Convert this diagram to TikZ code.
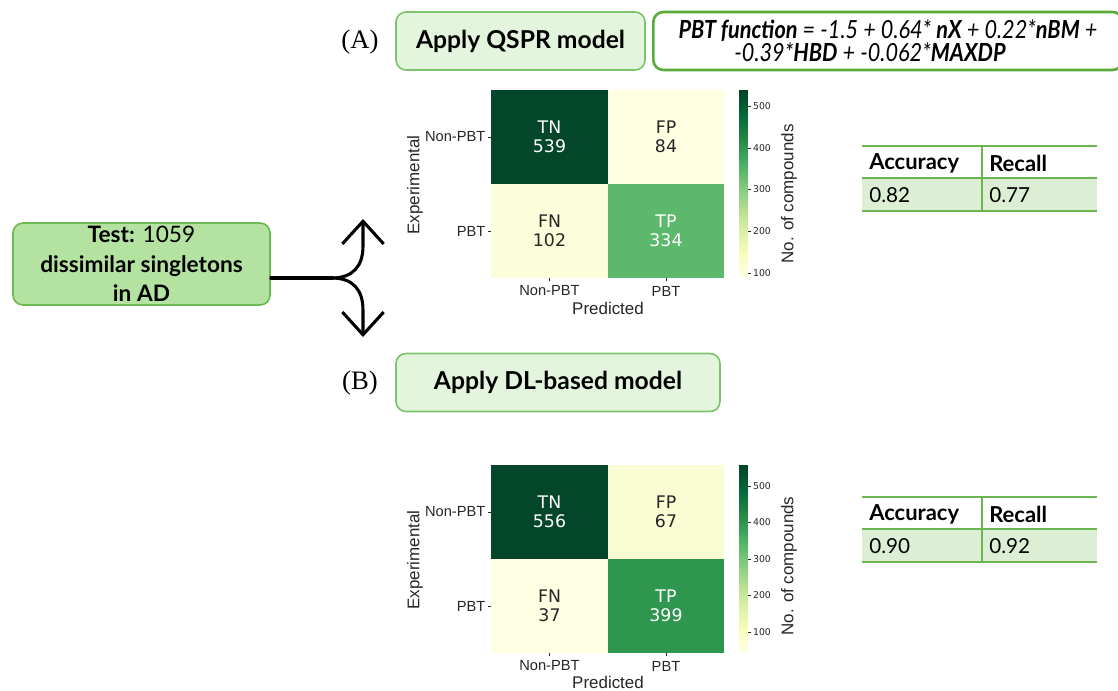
\documentclass[tikz,border=0pt]{standalone}
\usepackage{fontspec}
\setmainfont{Lato}
\newfontfamily\plotfont{DejaVu Sans}
\newfontfamily\axisfont{Liberation Sans}
\newfontfamily\labelserif{Liberation Serif}
\newfontfamily\condfont[FakeStretch=0.87]{Lato}
\usetikzlibrary{arrows.meta}

% box and table colours
\definecolor{testfill}{HTML}{B4E3A1}
\definecolor{testline}{HTML}{6DB850}
\definecolor{stepfill}{HTML}{E4F5DD}
\definecolor{stepline}{HTML}{7DC36A}
\definecolor{formline}{HTML}{5AAC3D}
\definecolor{tabline}{HTML}{6CB652}
\definecolor{tabfill}{HTML}{DCEFD5}
% YlGn colour map
\definecolor{ylgn0}{RGB}{255,255,229}
\definecolor{ylgn1}{RGB}{247,252,185}
\definecolor{ylgn2}{RGB}{217,240,163}
\definecolor{ylgn3}{RGB}{173,221,142}
\definecolor{ylgn4}{RGB}{120,198,121}
\definecolor{ylgn5}{RGB}{65,171,93}
\definecolor{ylgn6}{RGB}{35,132,67}
\definecolor{ylgn7}{RGB}{0,104,55}
\definecolor{ylgn8}{RGB}{0,69,41}
\definecolor{cellTN}{HTML}{03462A}
\definecolor{cellFPa}{HTML}{FFFFE2}
\definecolor{cellFNa}{HTML}{FCFDDA}
\definecolor{cellTPa}{HTML}{5CB96B}
\definecolor{cellFPb}{HTML}{FAFCD3}
\definecolor{cellFNb}{HTML}{FFFFE3}
\definecolor{cellTPb}{HTML}{2F964F}
\definecolor{plottext}{HTML}{262626}

% vertical YlGn colour bar: #1 = top y, #2 = bottom y (x from 739 to 748),
% built from 64 thin solid bands, light at the bottom, dark at the top
\newcommand{\ylgnbar}[2]{%
  \foreach \i in {0,...,63}{%
    \pgfmathsetmacro\tpos{\i/63*8}%
    \pgfmathtruncatemacro\klo{min(floor(\tpos),7)}%
    \pgfmathtruncatemacro\khi{\klo+1}%
    \pgfmathtruncatemacro\pct{round(100*(1-(\tpos-\klo)))}%
    \colorlet{bandcol}{ylgn\klo!\pct!ylgn\khi}%
    \pgfmathsetmacro\ybot{#2-(#2-#1)/64*\i}%
    \pgfmathsetmacro\ytop{max(#2-(#2-#1)/64*(\i+1)-0.8,#1)}%
    \fill[fill=bandcol] (739,\ybot) rectangle (748,\ytop);
  }%
}

\tikzset{
  testbox/.style={draw=testline, fill=testfill, line width=1.2pt,
    rounded corners=7.5pt, align=center, inner sep=0pt,
    minimum width=192.75pt, minimum height=61.5pt, font=\fontsize{17}{22}\selectfont},
  stepbox/.style={draw=stepline, fill=stepfill, line width=1.2pt,
    rounded corners=7.5pt, inner sep=0pt, minimum height=43.5pt,
    font=\bfseries\fontsize{18.5}{22}\selectfont},
  formbox/.style={draw=formline, fill=white, line width=2pt,
    rounded corners=7.5pt, inner sep=0pt, align=center,
    minimum width=352pt, minimum height=43.5pt,
    font=\condfont\itshape\fontsize{18.7}{17.5}\selectfont},
  panel/.style={font=\labelserif\fontsize{20}{24}\selectfont},
  celltxt/.style={align=center, font=\plotfont\fontsize{13}{14}\selectfont},
  ticklbl/.style={text=plottext, inner sep=1pt, font=\axisfont\fontsize{11}{13}\selectfont},
  axlbl/.style={text=plottext, inner sep=0pt, font=\axisfont\fontsize{12.7}{15}\selectfont},
  cbarlbl/.style={text=plottext, anchor=west, inner sep=1pt, font=\plotfont\fontsize{7}{8}\selectfont},
  tickmark/.style={draw=plottext, line width=0.5pt},
  tabrule/.style={draw=tabline, line width=0.9pt},
  tabhead/.style={anchor=west, inner sep=0pt, font=\bfseries\fontsize{16.5}{18}\selectfont},
  tabval/.style={anchor=west, inner sep=0pt, font=\fontsize{15.5}{18}\selectfont},
  flow/.style={line width=2.3pt, line cap=round},
  chevron/.style={-{Straight Barb[length=17pt, width=31pt, line width=2.3pt]}}
}

\begin{document}
\begin{tikzpicture}[x=0.75pt, y=-0.75pt]
\useasboundingbox (0,0) rectangle (1118,690);

% input set
\node[testbox] (test) at (141.5,264)
  {\textbf{Test:} 1059\\\textbf{dissimilar singletons}\\\textbf{in AD}};

% split arrow
\coordinate (split) at (332,278);
\coordinate (upend) at (363,219);
\coordinate (downend) at (363,337);
\draw[flow] (test.east |- split) -- (split);
\draw[flow, chevron] (split) .. controls (353,278) and (363,266) .. (363,246) -- (upend);
\draw[flow, chevron] (split) .. controls (353,278) and (363,290) .. (363,310) -- (downend);

% panel labels and model boxes
\node[panel] (labA) at (360,42) {(A)};
\node[panel] (labB) at (360,383) {(B)};
\node[stepbox, minimum width=186.75pt] (qspr) at (520.5,41) {Apply QSPR model};
\node[formbox] (formula) at (888,41)
  {\textbf{PBT function} = -1.5 + 0.64* \textbf{nX} + 0.22*\textbf{nBM} +\\
   -0.39*\textbf{HBD} + -0.062*\textbf{MAXDP}\hspace*{27pt}};
\node[stepbox, minimum width=243pt] (dl) at (558,382.5) {Apply DL-based model};

% ---------- confusion matrix, QSPR model ----------
\fill[cellTN]  (491,90)  rectangle (608,184);
\fill[cellFPa] (608,90)  rectangle (724,184);
\fill[cellFNa] (491,184) rectangle (608,278);
\fill[cellTPa] (608,184) rectangle (724,278);
\node[celltxt, text=white]    (aTN) at (549.5,137) {TN\\539};
\node[celltxt, text=plottext] (aFP) at (666,137)   {FP\\84};
\node[celltxt, text=plottext] (aFN) at (549.5,231) {FN\\102};
\node[celltxt, text=white]    (aTP) at (666,231)   {TP\\334};
\draw[tickmark] (488,137) -- (491,137) (488,231) -- (491,231);
\draw[tickmark] (549.5,278) -- (549.5,281) (666,278) -- (666,281);
\node[ticklbl, anchor=east] (aYn) at (487,137) {Non-PBT};
\node[ticklbl, anchor=east] (aYp) at (487,231) {PBT};
\node[ticklbl] (aXn) at (549.5,291) {Non-PBT};
\node[ticklbl] (aXp) at (666,291) {PBT};
\node[axlbl, rotate=90] (aExp) at (415,185) {Experimental};
\node[axlbl] (aPred) at (608,308) {Predicted};
\node[axlbl, rotate=90] (aCnt) at (789,194) {No. of compounds};

% ---------- confusion matrix, DL-based model ----------
\fill[cellTN]  (491,465) rectangle (608,559);
\fill[cellFPb] (608,465) rectangle (724,559);
\fill[cellFNb] (491,559) rectangle (608,653);
\fill[cellTPb] (608,559) rectangle (724,653);
\node[celltxt, text=white]    (bTN) at (549.5,512) {TN\\556};
\node[celltxt, text=plottext] (bFP) at (666,512)   {FP\\67};
\node[celltxt, text=plottext] (bFN) at (549.5,606) {FN\\37};
\node[celltxt, text=white]    (bTP) at (666,606)   {TP\\399};
\draw[tickmark] (488,512) -- (491,512) (488,606) -- (491,606);
\draw[tickmark] (549.5,653) -- (549.5,656) (666,653) -- (666,656);
\node[ticklbl, anchor=east] (bYn) at (487,512) {Non-PBT};
\node[ticklbl, anchor=east] (bYp) at (487,606) {PBT};
\node[ticklbl] (bXn) at (549.5,666) {Non-PBT};
\node[ticklbl] (bXp) at (666,666) {PBT};
\node[axlbl, rotate=90] (bExp) at (415,560) {Experimental};
\node[axlbl] (bPred) at (608,682) {Predicted};
\node[axlbl, rotate=90] (bCnt) at (789,566) {No. of compounds};

% ---------- metric tables ----------
\fill[tabfill] (862,178) rectangle (1097,211);
\draw[tabrule] (862,146) -- (1097,146) (862,178) -- (1097,178) (862,211) -- (1097,211);
\draw[tabrule] (982,146) -- (982,211);
\node[tabhead] (aAccH) at (869,163) {Accuracy};
\node[tabhead] (aRecH) at (989,163) {Recall};
\node[tabval]  (aAcc)  at (869,195) {0.82};
\node[tabval]  (aRec)  at (989,195) {0.77};

\fill[tabfill] (862,529) rectangle (1097,562);
\draw[tabrule] (862,497) -- (1097,497) (862,529) -- (1097,529) (862,562) -- (1097,562);
\draw[tabrule] (982,497) -- (982,562);
\node[tabhead] (bAccH) at (869,514) {Accuracy};
\node[tabhead] (bRecH) at (989,514) {Recall};
\node[tabval]  (bAcc)  at (869,546) {0.90};
\node[tabval]  (bRec)  at (989,546) {0.92};

% ---------- colour bars with their ticks ----------
\ylgnbar{90}{278}
\foreach \v/\y in {500/106,400/148,300/189.5,200/231,100/273}{
  \draw[tickmark] (748,\y) -- (751,\y);
  \node[cbarlbl] at (751.5,\y) {\v};
}
\ylgnbar{465}{653}
\foreach \v/\y in {500/486,400/522.5,300/559,200/595.5,100/632}{
  \draw[tickmark] (748,\y) -- (751,\y);
  \node[cbarlbl] at (751.5,\y) {\v};
}
\end{tikzpicture}
\end{document}
